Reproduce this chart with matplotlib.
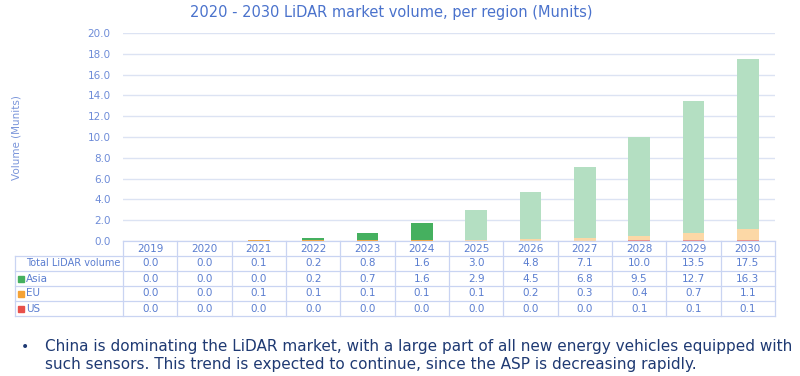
import matplotlib
matplotlib.use("Agg")
import matplotlib.pyplot as plt
from matplotlib.patches import Rectangle
from matplotlib.lines import Line2D

years = ["2019", "2020", "2021", "2022", "2023", "2024", "2025", "2026", "2027", "2028", "2029", "2030"]
total = [0.0, 0.0, 0.1, 0.2, 0.8, 1.6, 3.0, 4.8, 7.1, 10.0, 13.5, 17.5]
asia = [0.0, 0.0, 0.0, 0.2, 0.7, 1.6, 2.9, 4.5, 6.8, 9.5, 12.7, 16.3]
eu = [0.0, 0.0, 0.1, 0.1, 0.1, 0.1, 0.1, 0.2, 0.3, 0.4, 0.7, 1.1]
us = [0.0, 0.0, 0.0, 0.0, 0.0, 0.0, 0.0, 0.0, 0.0, 0.1, 0.1, 0.1]
forecast_from = "2025"
row_labels = ["Total LiDAR volume", "Asia", "EU", "US"]
title = "2020 - 2030 LiDAR market volume, per region (Munits)"
ylabel = "Volume (Munits)"
bullet_lines = ["China is dominating the LiDAR market, with a large part of all new energy vehicles equipped with",
                "such sensors. This trend is expected to continue, since the ASP is decreasing rapidly."]

plt.rcParams['font.family'] = ['DejaVu Sans']
W, H = 800, 376
fig = plt.figure(figsize=(8, 3.76), dpi=100)

AX_L, AX_R, AX_T, AX_B = 123, 775, 33, 241
ax = fig.add_axes([AX_L / W, 1 - AX_B / H, (AX_R - AX_L) / W, (AX_B - AX_T) / H])

c_asia, c_eu, c_us = "#45B05F", "#F4A236", "#E8504A"
c_asia_f, c_eu_f, c_us_f = "#B4DFC2", "#FCD8A6", "#EE8A80"
tick_col = "#6E8CD8"
grid_col = "#DCE3F3"
line_col = "#C9D4F2"

n = len(years)
x = list(range(n))
fi = years.index(forecast_from)
col_a = [c_asia if i < fi else c_asia_f for i in x]
col_e = [c_eu if i < fi else c_eu_f for i in x]
col_u = [c_us if i < fi else c_us_f for i in x]
bw = 0.4
ax.bar(x, us, bw, color=col_u, zorder=3)
ax.bar(x, eu, bw, bottom=us, color=col_e, zorder=3)
bot2 = [a + b for a, b in zip(us, eu)]
ax.bar(x, asia, bw, bottom=bot2, color=col_a, zorder=3)

ax.set_xlim(-0.5, n - 0.5)
ax.set_ylim(0, 20)
ax.set_yticks([i * 2 for i in range(11)])
ax.set_yticklabels([f"{i*2:.1f}" for i in range(11)], color=tick_col, fontsize=7.5)
ax.tick_params(axis='y', length=0, pad=9)
ax.set_xticks([])
for s in ax.spines.values():
    s.set_visible(False)
ax.grid(axis='y', color=grid_col, linewidth=1, zorder=0)
ax.set_axisbelow(True)

fig.text(391 / W, 1 - 12 / H, title, ha='center', va='center', color="#4A72CC", fontsize=10.5)
fig.text(17 / W, 1 - 138 / H, ylabel, ha='center', va='center', rotation=90, color="#7A95DA", fontsize=7.5)

# data table
colw = (AX_R - AX_L) / n
rows_y = [241, 256, 271, 286, 301, 316]
TL = 15

def fx(px):
    return px / W

def fy(py):
    return 1 - py / H

lines = []
lines.append(Line2D([fx(AX_L), fx(AX_R)], [fy(rows_y[0])] * 2))
for yy in rows_y[1:]:
    lines.append(Line2D([fx(TL), fx(AX_R)], [fy(yy)] * 2))
lines.append(Line2D([fx(TL)] * 2, [fy(rows_y[1]), fy(rows_y[-1])]))
for i in range(n + 1):
    xx = AX_L + i * colw
    lines.append(Line2D([fx(xx)] * 2, [fy(rows_y[0]), fy(rows_y[-1])]))
for ln in lines:
    ln.set_color(line_col)
    ln.set_linewidth(0.9)
    fig.add_artist(ln)

tab_col = "#5A7DD0"
for i, yr in enumerate(years):
    cx = AX_L + (i + 0.5) * colw
    fig.text(fx(cx), fy((rows_y[0] + rows_y[1]) / 2), yr, ha='center', va='center', color=tab_col, fontsize=7.5)
for r, vals in enumerate([total, asia, eu, us]):
    cy = (rows_y[r + 1] + rows_y[r + 2]) / 2
    for i, v in enumerate(vals):
        cx = AX_L + (i + 0.5) * colw
        fig.text(fx(cx), fy(cy), f"{v:.1f}", ha='center', va='center', color=tab_col, fontsize=7.5)

legend_cols = [None, c_asia, c_eu, c_us]
for r, lab in enumerate(row_labels):
    cy = (rows_y[r + 1] + rows_y[r + 2]) / 2
    if legend_cols[r] is None:
        fig.text(fx(26), fy(cy), lab, ha='left', va='center', color=tab_col, fontsize=7)
    else:
        fig.add_artist(Rectangle((fx(18), fy(cy + 3)), 6 / W, 6 / H, color=legend_cols[r], transform=fig.transFigure))
        fig.text(fx(26), fy(cy), lab, ha='left', va='center', color=tab_col, fontsize=7.5)

txt_col = "#1F3A73"
fig.text(fx(21), fy(347), "•", ha='left', va='center', color=txt_col, fontsize=10)
fig.text(fx(45), fy(347), bullet_lines[0], ha='left', va='center', color=txt_col, fontsize=11)
fig.text(fx(45), fy(365), bullet_lines[1], ha='left', va='center', color=txt_col, fontsize=11)

fig.savefig("out.png", dpi=100, facecolor="white")
